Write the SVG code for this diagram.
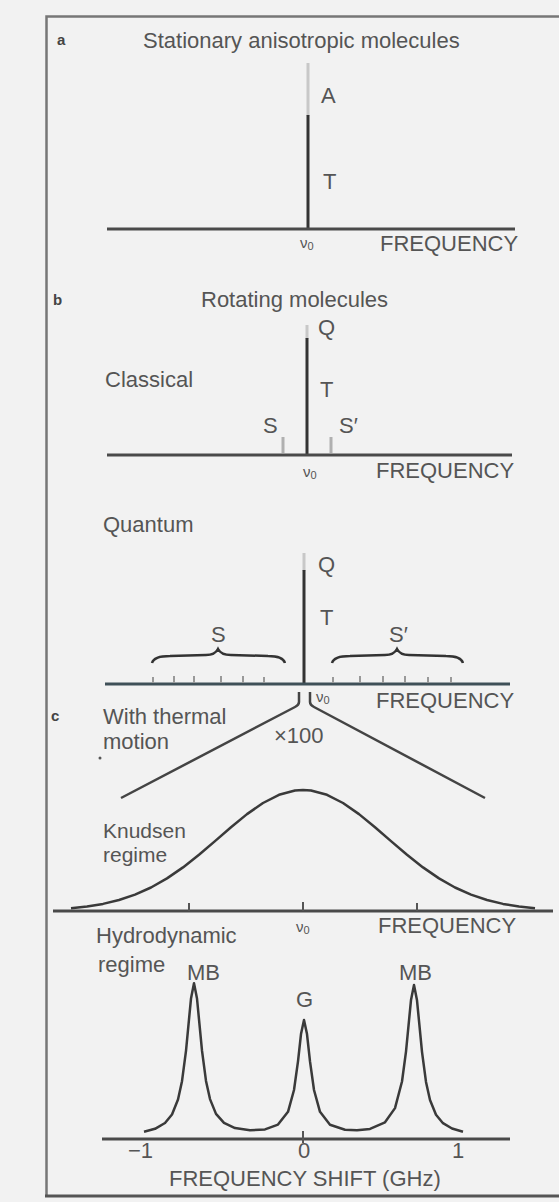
<svg xmlns="http://www.w3.org/2000/svg" width="559" height="1202" viewBox="0 0 559 1202">
<style>
text{font-family:"Liberation Sans",Arial,sans-serif;fill:#555;font-size:22px}
.lbl{font-weight:bold;font-size:15px;fill:#444}
.nu{font-size:15px}
.sm{font-size:21px}
.ax{stroke:#4a4a4a;stroke-width:3;fill:none}
.ln{stroke:#333;stroke-width:3;fill:none}
.lt{stroke:#c8c8c8;stroke-width:3;fill:none}
.tk{stroke:#999;stroke-width:2;fill:none}
.cv{stroke:#3a3a3a;stroke-width:2.5;fill:none;stroke-linejoin:round}
.br{stroke:#333;stroke-width:2.5;fill:none}
.cn{stroke:#444;stroke-width:2.5;fill:none;stroke-linejoin:round}
</style>
<rect x="0" y="0" width="559" height="1202" fill="#f2f2f2"/>
<g id="frame">
<path d="M46.5,1196 L46.5,16.5 L565,16.5" fill="none" stroke="#777" stroke-width="2.5"/>
<path d="M45,1196 L565,1196" fill="none" stroke="#555" stroke-width="3"/>
</g>
<g id="panel-a">
<text class="lbl" x="57" y="45">a</text>
<text x="143" y="48">Stationary anisotropic molecules</text>
<line class="lt" x1="308" y1="63" x2="308" y2="116"/>
<line class="ln" x1="308" y1="115" x2="308" y2="229"/>
<line class="ax" x1="107" y1="229" x2="515" y2="229"/>
<text x="321" y="103">A</text>
<text x="323" y="189">T</text>
<text class="nu" x="300" y="248">ν<tspan font-size="11" dy="2">0</tspan></text>
<text x="380" y="251">FREQUENCY</text>
</g>
<g id="panel-b-classical">
<text class="lbl" x="53" y="305">b</text>
<text x="201" y="307">Rotating molecules</text>
<line class="lt" x1="307" y1="325" x2="307" y2="339"/>
<line class="ln" x1="307" y1="338" x2="307" y2="455"/>
<line class="ax" x1="107" y1="455" x2="512" y2="455"/>
<text x="318" y="335">Q</text>
<text x="105" y="387">Classical</text>
<text x="320" y="397">T</text>
<text x="263" y="433">S</text>
<text x="339" y="433">S′</text>
<line x1="283" y1="437" x2="283" y2="453" stroke="#b0b0b0" stroke-width="3"/>
<line x1="331" y1="437" x2="331" y2="453" stroke="#b0b0b0" stroke-width="3"/>
<text class="nu" x="303" y="477">ν<tspan font-size="11" dy="2">0</tspan></text>
<text x="376" y="478">FREQUENCY</text>
</g>
<g id="panel-b-quantum">
<text x="103" y="532">Quantum</text>
<line class="lt" x1="304" y1="553" x2="304" y2="571"/>
<line class="ln" x1="304" y1="570" x2="304" y2="684"/>
<line x1="105" y1="684" x2="510" y2="684" stroke="#3f5058" stroke-width="3"/>
<text x="318" y="572">Q</text>
<text x="320" y="625">T</text>
<text x="211" y="642">S</text>
<text x="389" y="642">S′</text>
<path class="br" d="M152,663 Q154,656 170,656 L206,655 Q215,655 218,649 Q221,655 231,655 L268,656 Q283,656 285,663"/>
<path class="br" d="M332,663 Q334,656 350,656 L385,655 Q394,655 397,649 Q400,655 409,655 L446,656 Q461,656 463,663"/>
<g class="tk">
<line x1="153" y1="677" x2="153" y2="683"/><line x1="174" y1="676" x2="174" y2="683"/><line x1="194" y1="676" x2="194" y2="683"/><line x1="221" y1="676" x2="221" y2="683"/><line x1="243" y1="676" x2="243" y2="683"/><line x1="264" y1="677" x2="264" y2="683"/>
<line x1="333" y1="677" x2="333" y2="683"/><line x1="360" y1="676" x2="360" y2="683"/><line x1="383" y1="676" x2="383" y2="683"/><line x1="405" y1="676" x2="405" y2="683"/><line x1="428" y1="677" x2="428" y2="683"/><line x1="451" y1="677" x2="451" y2="683"/>
</g>
<text class="nu" x="316" y="702">ν<tspan font-size="11" dy="2">0</tspan></text>
<text x="376" y="708">FREQUENCY</text>
</g>
<g id="connectors">
<path class="cn" d="M299,692 L299,702 Q299,705 295,707 L121,798"/>
<path class="cn" d="M310,692 L310,702 Q310,705 314,707 L485,798"/>
</g>
<g id="panel-c-knudsen">
<text class="lbl" x="51" y="721">c</text>
<text x="103" y="724">With thermal</text>
<text x="103" y="749">motion</text>
<circle cx="100" cy="758" r="1.5" fill="#555"/>
<text x="274" y="743">×100</text>
<text class="sm" x="103" y="838">Knudsen</text>
<text class="sm" x="103" y="862">regime</text>
<polyline class="cv" points="71,908.3 87,906.6 103,903.9 119,900 135,894.6 151,887.5 167,878.4 183,867.4 199,854.8 215,841.1 231,827.2 247,814.1 263,803 279,794.8 295,790.5 303,790 311,790.5 327,794.8 343,803 359,814.1 375,827.2 391,841.1 407,854.8 423,867.4 439,878.4 455,887.5 471,894.6 487,900 503,903.9 519,906.6 535,908.3"/>
<line class="ax" x1="53" y1="911" x2="553" y2="911"/>
<line x1="189" y1="903" x2="189" y2="911" stroke="#555" stroke-width="2"/>
<line x1="303" y1="902" x2="303" y2="911" stroke="#555" stroke-width="2"/>
<line x1="417" y1="903" x2="417" y2="911" stroke="#555" stroke-width="2"/>
<text class="nu" x="296" y="932">ν<tspan font-size="11" dy="2">0</tspan></text>
<text x="378" y="933">FREQUENCY</text>
</g>
<g id="panel-c-hydrodynamic">
<text x="96" y="943">Hydrodynamic</text>
<text x="98" y="972">regime</text>
<text x="187" y="980">MB</text>
<text x="399" y="980">MB</text>
<text x="296" y="1007">G</text>
<polyline class="cv" points="144,1131.7 155,1128.8 165,1123 172,1114.5 178,1099.5 182,1081.2 186,1050.8 189,1019.4 191,998.6 194,983.3 197,998.5 199,1019.3 202,1050.7 206,1080.9 210,1099.1 216,1113.9 224,1122.9 235,1128.1 250,1130.2 265,1129.4 278,1124.6 288,1111.8 294,1090 298,1061.3 301,1034.1 304,1019.9 307,1034.1 310,1061.4 314,1090 320,1111.8 330,1124.7 345,1129.7 357,1130.3 370,1128.9 385,1122.3 395,1108.1 402,1081.5 406,1051.6 409,1020.6 411,1000.1 414,985.1 417,1000.3 419,1020.8 422,1051.8 426,1081.9 430,1100 436,1114.8 443,1123.2 452,1128.5 463,1131.7"/>
<line class="ax" x1="102" y1="1139" x2="510" y2="1139"/>
<line x1="303" y1="1131" x2="303" y2="1143" stroke="#555" stroke-width="2"/>
<text x="128" y="1158">−1</text>
<text x="298" y="1158">0</text>
<text x="452" y="1158">1</text>
<text x="169" y="1186">FREQUENCY SHIFT (GHz)</text>
</g>
</svg>
